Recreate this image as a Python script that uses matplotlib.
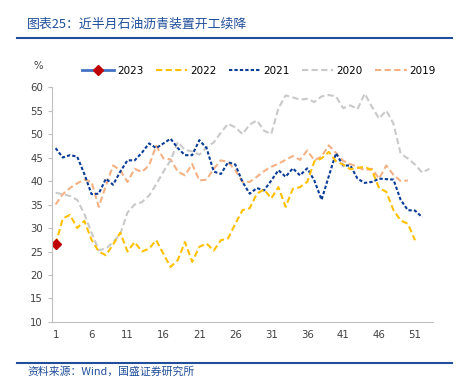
import matplotlib
matplotlib.use('Agg')
import matplotlib.pyplot as plt
from matplotlib.lines import Line2D

# weekly operating rate of petroleum asphalt units, %
weeks_2023 = [1]
rate_2023 = [26.5]

rate_2022 = [26.5, 32.0, 32.8, 30.0, 31.5, 27.5, 25.0, 24.2, 26.5, 29.0,
             25.0, 27.0, 25.0, 25.6, 27.4, 24.5, 21.7, 23.2, 27.0, 22.8,
             26.0, 26.7, 25.2, 27.4, 27.8, 30.9, 33.8, 34.2, 37.3, 38.2,
             36.3, 38.7, 34.5, 38.3, 38.7, 39.8, 44.2, 44.8, 46.2, 44.2,
             43.5, 42.5, 42.8, 43.0, 42.3, 38.5, 37.7, 33.8, 31.6, 30.9,
             27.4]

rate_2021 = [47.0, 45.0, 45.5, 45.2, 41.5, 37.2, 37.3, 40.5, 39.2, 42.0,
             44.4, 44.4, 46.0, 48.0, 47.0, 48.0, 49.0, 47.0, 45.5, 45.5,
             48.7, 47.0, 42.0, 41.5, 44.0, 43.5, 39.8, 37.3, 38.5, 38.0,
             40.1, 42.3, 40.9, 42.7, 41.2, 42.7, 40.1, 36.0, 41.0, 45.9,
             43.3, 43.3, 40.5, 39.6, 39.8, 40.5, 40.4, 40.3, 36.0, 33.8,
             33.7, 32.3]

rate_2020 = [37.5, 37.2, 36.8, 36.0, 33.0, 29.0, 25.3, 25.6, 27.0, 28.7,
             33.3, 35.0, 35.5, 36.9, 39.3, 42.0, 44.4, 48.3, 46.6, 46.3,
             45.6, 47.2, 48.2, 50.3, 52.2, 51.4, 50.0, 52.0, 52.9, 50.7,
             50.0, 55.5, 58.2, 57.8, 57.3, 57.5, 56.8, 58.0, 58.3, 58.0,
             55.5, 56.1, 55.3, 58.6, 55.8, 53.3, 55.0, 52.2, 45.8, 44.8,
             43.5, 41.8, 42.6]

rate_2019 = [35.0, 37.2, 38.5, 39.5, 40.3, 39.8, 34.5, 39.0, 43.3, 42.3,
             39.8, 42.6, 41.9, 43.3, 47.5, 44.8, 44.6, 42.0, 41.2, 43.6,
             40.1, 40.3, 42.6, 44.4, 44.0, 42.3, 39.8, 39.8, 40.9, 42.1,
             43.0, 43.7, 44.5, 45.3, 44.5, 46.5, 44.4, 45.2, 47.6, 46.0,
             44.3, 43.6, 43.0, 42.3, 42.6, 40.5, 43.3, 41.3, 40.0, 40.1]

x_ticks = [1, 6, 11, 16, 21, 26, 31, 36, 41, 46, 51]
y_ticks = [10, 15, 20, 25, 30, 35, 40, 45, 50, 55, 60]

title_text = '图表25：近半月石油沥青装置开工续降'
source_text = '资料来源：Wind，国盛证券研究所'

cjk = ['Noto Sans CJK SC', 'DejaVu Sans']
navy = '#1F4E9A'

fig = plt.figure(figsize=(4.63, 3.77), dpi=100)
ax = fig.add_axes([0.1123, 0.1459, 0.8229, 0.6233])

def weeks(vals):
    return list(range(1, len(vals) + 1))

ax.plot(weeks(rate_2019), rate_2019, color='#F4B183', lw=1.5, dashes=(3, 1.6))
ax.plot(weeks(rate_2020), rate_2020, color='#C9C9C9', lw=1.5, dashes=(3, 1.6))
ax.plot(weeks(rate_2021), rate_2021, color='#0A3D96', lw=1.5, dashes=(1.6, 1.0))
ax.plot(weeks(rate_2022), rate_2022, color='#FFC000', lw=1.5, dashes=(3, 1.6))
ax.plot(weeks_2023, rate_2023, color='#4472C4', lw=2, marker='D', ms=5,
        mfc='#C00000', mec='#C00000')

ax.set_xlim(0.5, 53.5)
ax.set_ylim(10, 60)
ax.set_xticks(x_ticks)
ax.set_yticks(y_ticks)
ax.tick_params(axis='both', labelsize=7.3, colors='#404040')
ax.tick_params(axis='y', length=3, color='#BFBFBF', width=0.8)
ax.tick_params(axis='x', length=0, pad=6)
for s in ['top', 'right']:
    ax.spines[s].set_visible(False)
for s in ['left', 'bottom']:
    ax.spines[s].set_color('#BFBFBF')
    ax.spines[s].set_linewidth(0.8)

fig.text(0.082, 0.825, '%', fontsize=7.3, color='#404040', ha='center', va='center')

handles = [
    Line2D([], [], color='#4472C4', lw=2, marker='D', ms=5, mfc='#C00000', mec='#C00000'),
    Line2D([], [], color='#FFC000', lw=1.5, dashes=(3, 1.6)),
    Line2D([], [], color='#0A3D96', lw=1.5, dashes=(1.6, 1.0)),
    Line2D([], [], color='#C9C9C9', lw=1.5, dashes=(3, 1.6)),
    Line2D([], [], color='#F4B183', lw=1.5, dashes=(3, 1.6)),
]
fig.legend(handles, ['2023', '2022', '2021', '2020', '2019'], loc='center',
           bbox_to_anchor=(0.56, 0.812), ncol=5, frameon=False, fontsize=7.5,
           handlelength=3.0, handletextpad=0.3, columnspacing=1.2)

fig.text(0.058, 0.936, title_text, family=cjk, fontsize=9.3, color=navy,
         style='italic', va='center')
fig.add_artist(Line2D([0.037, 0.976], [0.9, 0.9], color=navy, lw=1.5))
fig.add_artist(Line2D([0.037, 0.976], [0.036, 0.036], color=navy, lw=1.5))
fig.text(0.06, 0.0, source_text, family=cjk, fontsize=7.8, color=navy,
         style='italic', va='bottom')

fig.savefig('out.png', dpi=100)
